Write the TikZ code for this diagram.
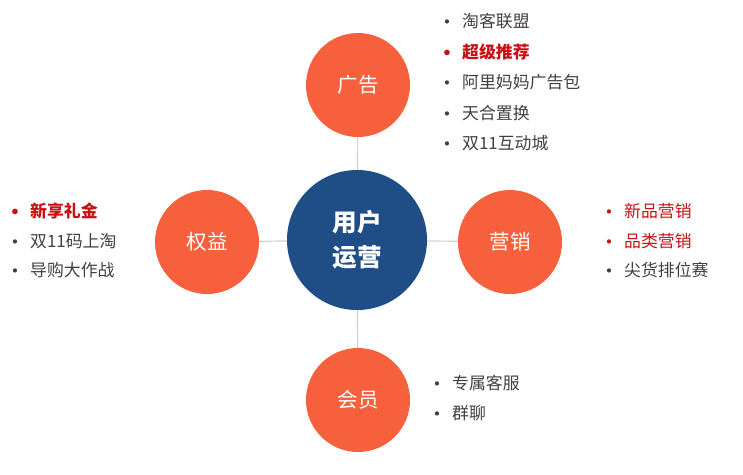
\documentclass[tikz,border=0pt]{standalone}
\usepackage{fontspec}
\setmainfont{Noto Sans CJK SC}
\usetikzlibrary{positioning}
\definecolor{hubblue}{RGB}{31,78,135}
\definecolor{petal}{RGB}{247,96,60}
\definecolor{hotred}{RGB}{200,16,22}
\definecolor{itemgray}{RGB}{64,64,64}
\definecolor{linkgray}{RGB}{210,210,210}
\newcommand{\itm}[1]{\makebox[0.75cm][l]{\raisebox{-1.6pt}{\fontsize{17}{17}\selectfont•}}#1}
\begin{document}
\begin{tikzpicture}[x=0.03cm, y=-0.03cm, every node/.style={align=left}, hub/.style={circle, fill=hubblue, minimum size=4.2cm, inner sep=0pt, text=white, font=\fontsize{21}{30}\selectfont\bfseries, align=center}, petalbox/.style={circle, fill=petal, minimum size=3.12cm, inner sep=0pt, text=white, font=\fontsize{17.5}{20}\selectfont}, item/.style={anchor=west, inner sep=0pt, text=itemgray, font=\fontsize{14.4}{17}\selectfont}, hot/.style={item, text=hotred, font=\fontsize{14.4}{17}\selectfont\bfseries}, warm/.style={item, text=hotred}, link/.style={linkgray, line width=1pt}]
\useasboundingbox (0,0) rectangle (743,475);
\node[hub] (hub) at (357,240) {用户\\运营};
\node[petalbox] (ads) at (358,85) {广告};
\node[petalbox] (rights) at (207,242) {权益};
\node[petalbox] (market) at (510,242) {营销};
\node[petalbox] (member) at (358,400) {会员};
\draw[link] (ads) -- (hub);
\draw[link] (hub) -- (member);
\draw[link] (rights) -- (hub);
\draw[link] (hub) -- (market);
% top list
\node[item] (ads1) at (437,21) {\itm{淘客联盟}};
\node[hot] (ads2) at (437,52) {\itm{超级推荐}};
\node[item] (ads3) at (437,82) {\itm{阿里妈妈广告包}};
\node[item] (ads4) at (437,113) {\itm{天合置换}};
\node[item] (ads5) at (437,143) {\itm{双11互动城}};
% left list
\node[hot] (rights1) at (5,211) {\itm{新享礼金}};
\node[item] (rights2) at (5,241) {\itm{双11码上淘}};
\node[item] (rights3) at (5,270) {\itm{导购大作战}};
% right list
\node[warm] (market1) at (599,211) {\itm{新品营销}};
\node[warm] (market2) at (599,241) {\itm{品类营销}};
\node[item] (market3) at (599,270) {\itm{尖货排位赛}};
% bottom list
\node[item] (member1) at (427,383) {\itm{专属客服}};
\node[item] (member2) at (427,413) {\itm{群聊}};
\end{tikzpicture}
\end{document}
